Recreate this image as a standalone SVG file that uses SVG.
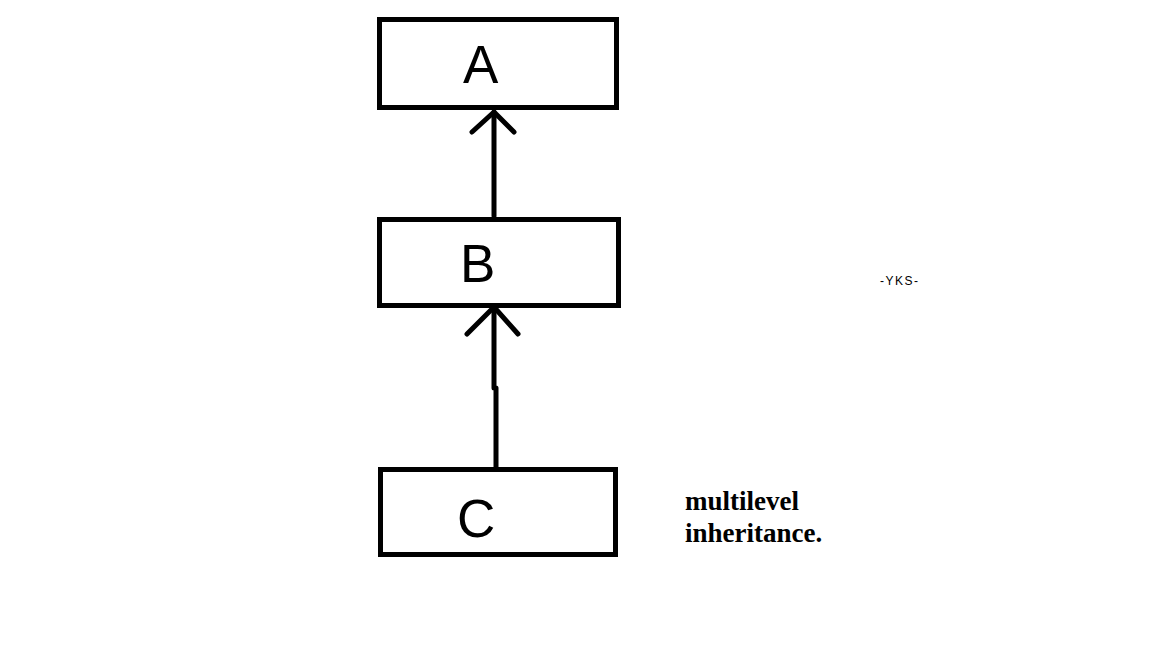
<svg xmlns="http://www.w3.org/2000/svg" width="1152" height="648" viewBox="0 0 1152 648">
<style>
.box{fill:#fff;stroke:#000;stroke-width:5}
.lbl{font-family:"Liberation Sans",Arial,sans-serif;font-size:53px;fill:#000}
.con{fill:none;stroke:#000;stroke-width:5;stroke-linecap:round;stroke-linejoin:round}
.note{font-family:"Liberation Serif","Times New Roman",serif;font-weight:bold;font-size:27px;fill:#000}
.sig{font-family:"Liberation Sans",Arial,sans-serif;font-size:12px;letter-spacing:1.5px;fill:#000}
</style>
<rect width="1152" height="648" fill="#fff"/>
<g id="connectors">
<path class="con" d="M494 112 L494 216"/>
<path class="con" d="M472 132 L494 112 L514 132"/>
<path class="con" d="M494 307 L494 388 M496 388 L496 467"/>
<path class="con" d="M467 334 L494 307 L518 334"/>
</g>
<g id="nodeA">
<rect class="box" x="379.5" y="19.5" width="237" height="88"/>
<text class="lbl" x="463" y="83">A</text>
</g>
<g id="nodeB">
<rect class="box" x="379.5" y="219.5" width="239" height="86"/>
<text class="lbl" x="460" y="282" textLength="30">B</text>
</g>
<g id="nodeC">
<rect class="box" x="380.5" y="469.5" width="235" height="85"/>
<text class="lbl" x="457" y="537" textLength="34">C</text>
</g>
<text class="sig" x="880" y="285">-YKS-</text>
<text class="note" x="685" y="510">multilevel</text>
<text class="note" x="685" y="542">inheritance.</text>
</svg>
